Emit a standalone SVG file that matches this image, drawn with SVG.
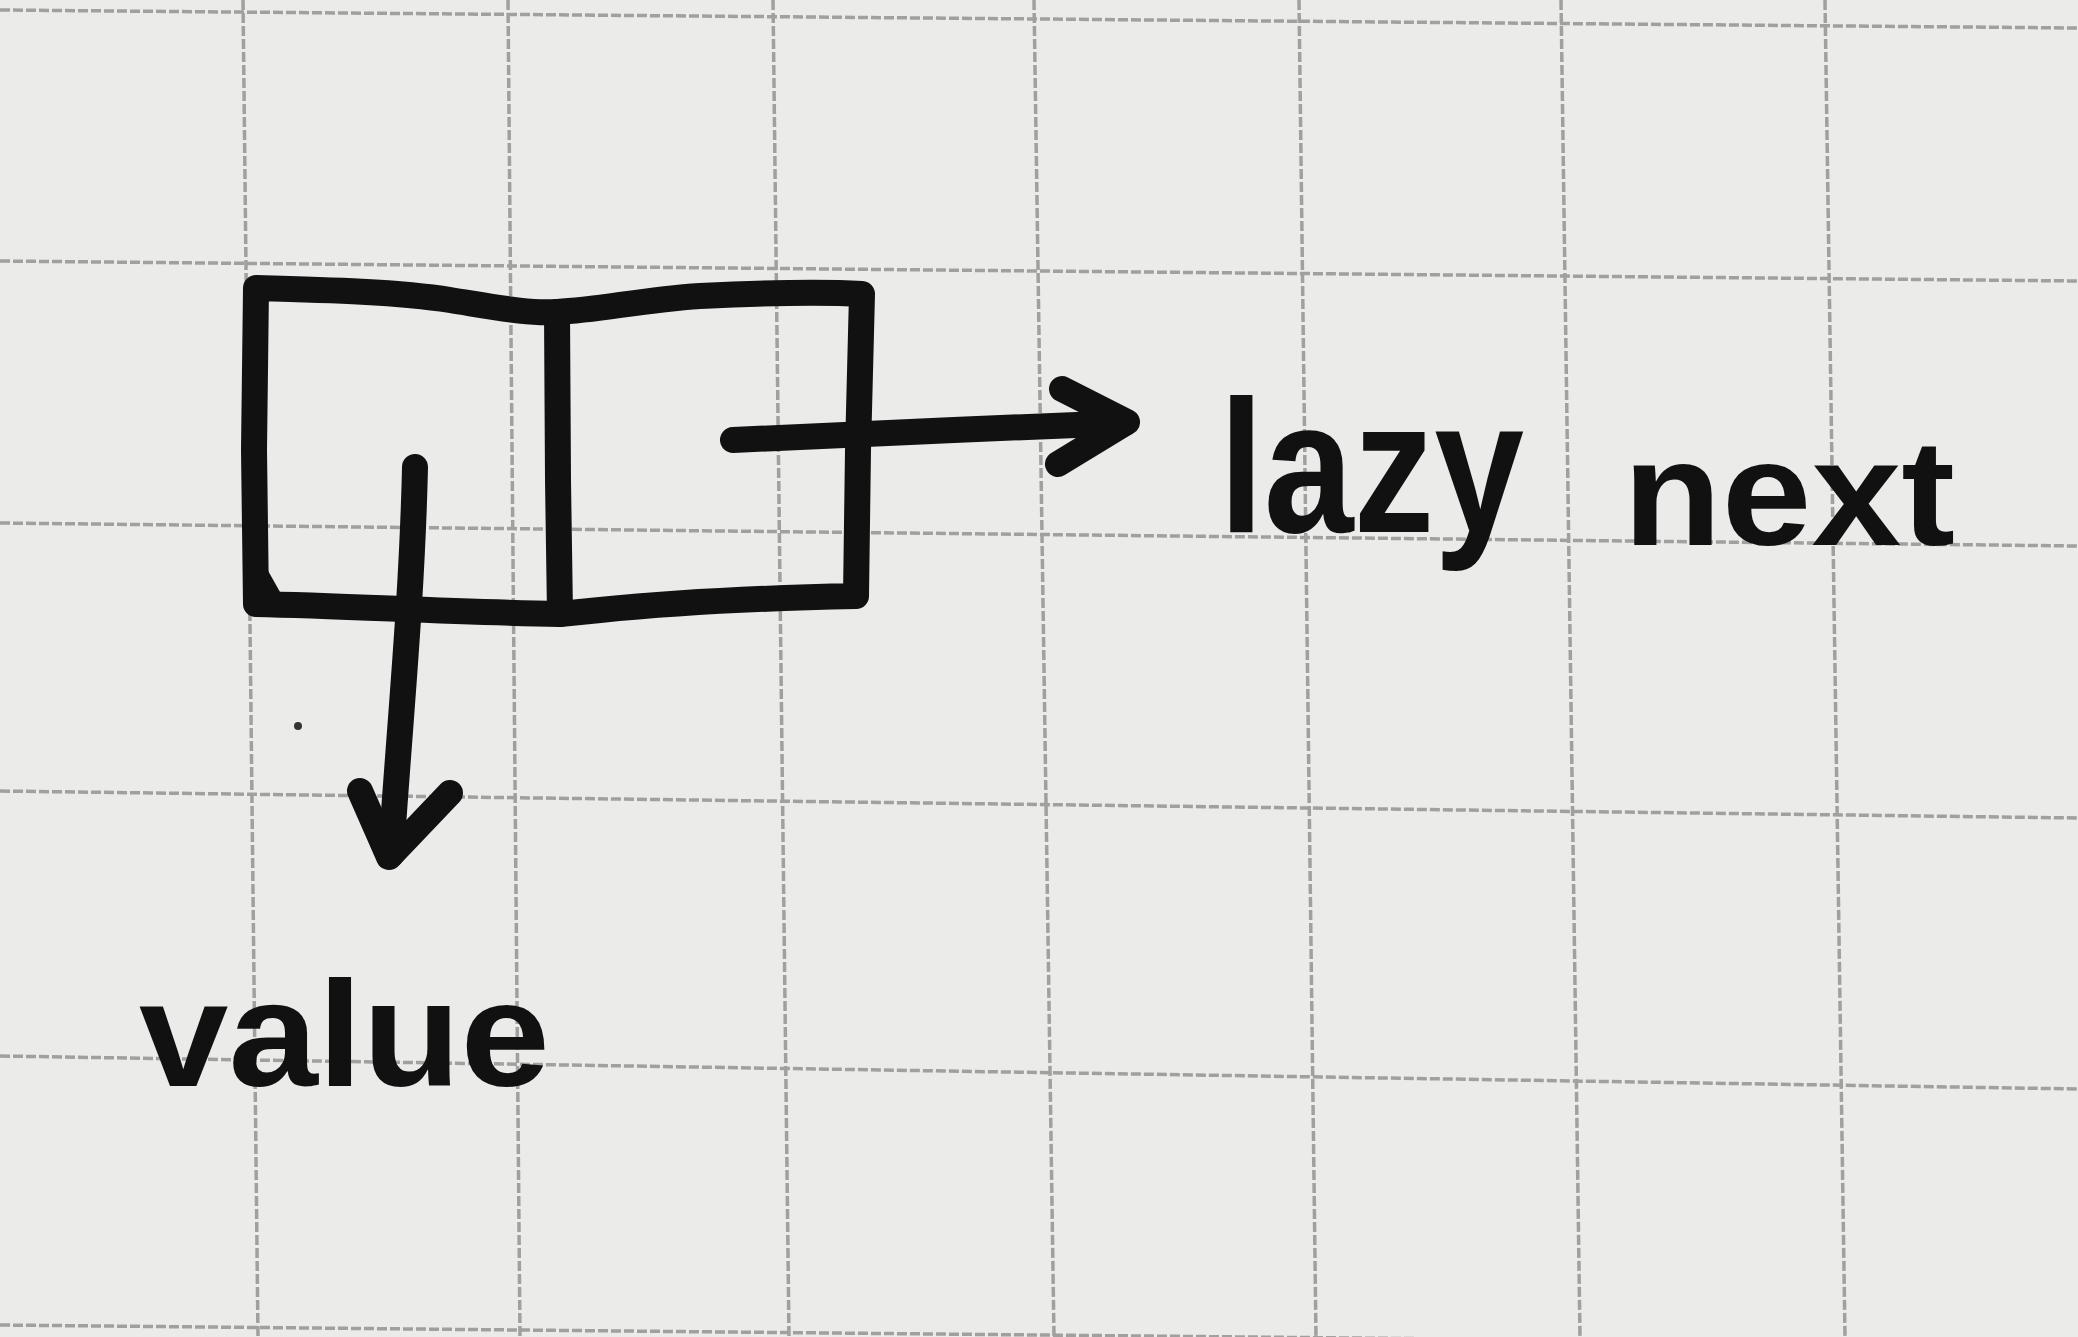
<svg xmlns="http://www.w3.org/2000/svg" width="2078" height="1337" viewBox="0 0 2078 1337">
<defs>
<style>
.grid line{stroke:#a0a09e;stroke-width:3.5;stroke-dasharray:10 3}
.ink{fill:none;stroke:#111;stroke-width:26;stroke-linecap:round;stroke-linejoin:round}
.hand{font-family:"Liberation Sans","DejaVu Sans",sans-serif;font-weight:bold;fill:#111}
</style>
</defs>
<rect width="2078" height="1337" fill="#ebebe9"/>
<g class="grid" id="grid">
<line x1="243" y1="0" x2="258" y2="1337"/>
<line x1="508" y1="0" x2="520" y2="1337"/>
<line x1="773" y1="0" x2="789" y2="1337"/>
<line x1="1034" y1="0" x2="1054" y2="1337"/>
<line x1="1299" y1="0" x2="1316" y2="1337"/>
<line x1="1561" y1="0" x2="1580" y2="1337"/>
<line x1="1825" y1="0" x2="1845" y2="1337"/>
<line x1="0" y1="10" x2="2078" y2="28"/>
<line x1="0" y1="261" x2="2078" y2="281"/>
<line x1="0" y1="523" x2="2078" y2="546"/>
<line x1="0" y1="791" x2="2078" y2="818"/>
<line x1="0" y1="1056" x2="2078" y2="1089"/>
<line x1="0" y1="1325" x2="2078" y2="1345"/>
</g>
<g id="node-cell">
<path class="ink" d="M256,288 C330,290 400,292 450,300 C500,308 530,314 557,312 C600,310 640,300 700,296 C780,292 830,292 862,294 L858,450 L856,596 C760,598 660,604 600,610 L560,614 C450,612 350,606 256,604 L254,450 Z"/>
<path class="ink" d="M557,312 L558,480 L560,614"/>
<path d="M262,560 L280,592 L262,594 Z" fill="#111"/>
<circle cx="298" cy="726" r="4" fill="#333"/>
</g>
<g id="connectors">
<path class="ink" d="M415,467 C412,600 400,720 391,855"/>
<path class="ink" d="M360,791 L389,857 L450,793"/>
<path class="ink" d="M733,440 C850,434 1000,428 1125,423"/>
<path class="ink" d="M1062,389 L1127,422 L1058,464"/>
</g>
<g id="label-lazy-next">
<text class="hand" x="1219" y="532" font-size="190" textLength="305" lengthAdjust="spacingAndGlyphs">lazy</text>
<text class="hand" x="1623" y="545" font-size="150" textLength="332" lengthAdjust="spacingAndGlyphs">next</text>
</g>
<g id="label-value">
<text class="hand" x="139" y="1086" font-size="150" textLength="411" lengthAdjust="spacingAndGlyphs">value</text>
</g>
</svg>
